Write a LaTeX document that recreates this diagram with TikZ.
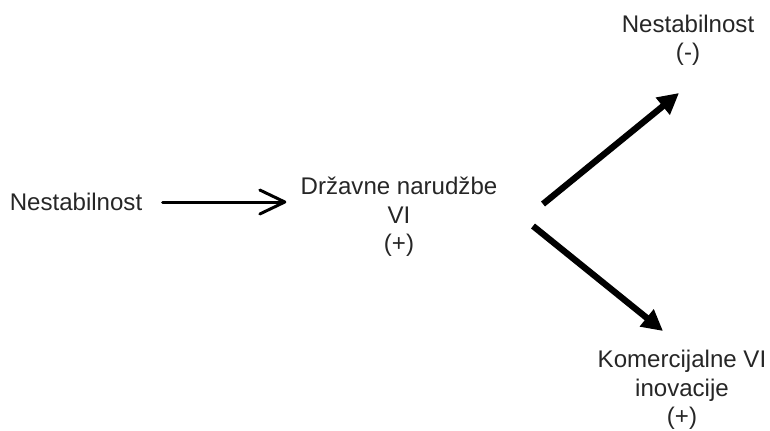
\documentclass[tikz,border=0pt]{standalone}
\usepackage{fontspec}
\setmainfont{Liberation Sans}
\usetikzlibrary{arrows.meta}

\begin{document}
\begin{tikzpicture}[x=0.02cm, y=-0.02cm,
        lbl/.style={align=center, inner sep=0pt, text=black!85,
            font=\fontsize{13.7pt}{16.2pt}\selectfont},
        thin arrow/.style={line width=1.7pt, line cap=round,
            -{Straight Barb[length=0.5cm, width=0.48cm, round]}},
        thick arrow/.style={line width=3.6pt,
            -{Triangle[length=0.42cm, width=0.42cm]}}]
        \useasboundingbox (0,0) rectangle (770,430);

        \node[lbl] (nest) at (76,202) {Nestabilnost};
        \node[lbl] (drz) at (399,217) {Državne narudžbe\\VI\\(+)};
        \node[lbl] (nestb) at (688,40) {Nestabilnost\\(-)};
        \node[lbl] (kom) at (682,390) {Komercijalne VI\\inovacije\\(+)};

        \coordinate (forkUp) at (543,204);
        \coordinate (forkDown) at (533,226);
        \coordinate (tipUp) at (679,93);
        \coordinate (tipDown) at (663,331);

        \draw[thin arrow, shorten <=0.4cm, shorten >=0.28cm]
            (nest.east) -- (nest.east -| drz.west);
        \draw[thick arrow] (forkUp) -- (tipUp);
        \draw[thick arrow] (forkDown) -- (tipDown);

    \end{tikzpicture}
\end{document}
